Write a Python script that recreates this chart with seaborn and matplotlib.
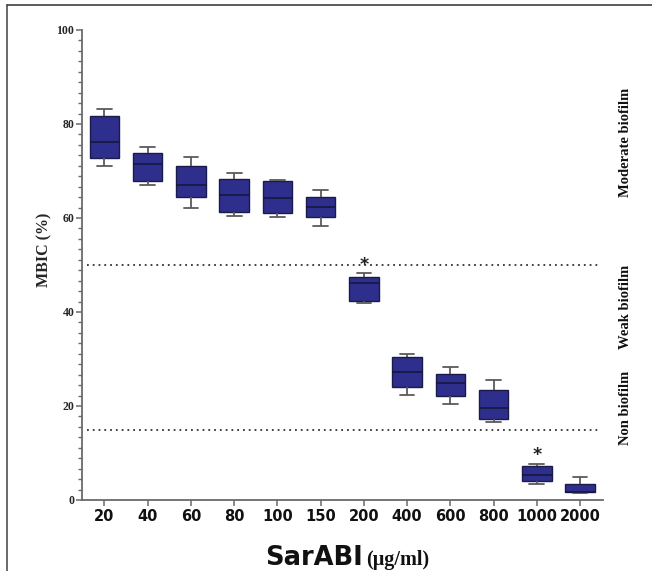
import numpy as np
import pandas as pd
import matplotlib
matplotlib.use("Agg")
import matplotlib.pyplot as plt
from matplotlib.lines import Line2D
from matplotlib.ticker import AutoMinorLocator
import seaborn as sns

# ---- data ----
concentrations = ["20", "40", "60", "80", "100", "150", "200", "400", "600", "800", "1000", "2000"]
lows    = [71.1, 67.0, 62.1, 60.4, 60.2, 58.3, 41.9, 22.3, 20.4, 16.7, 3.5, 1.5]
q1s     = [72.8, 67.9, 64.5, 61.2, 61.1, 60.2, 42.4, 24.1, 22.2, 17.3, 4.0, 1.6]
medians = [76.1, 71.4, 67.1, 65.0, 64.3, 62.3, 46.1, 27.2, 25.0, 19.6, 5.4, 1.8]
q3s     = [81.6, 73.8, 71.1, 68.3, 67.8, 64.5, 47.4, 30.4, 26.9, 23.3, 7.3, 3.4]
highs   = [83.2, 75.1, 73.0, 69.6, 68.1, 66.0, 48.2, 31.0, 28.4, 25.5, 7.6, 4.9]
thresholds = [50, 15]
star_groups = ["200", "1000"]
star_values = [49.9, 9.5]
zone_labels = ["Moderate biofilm", "Weak biofilm", "Non biofilm"]
zone_label_y = [76, 41, 19.5]
y_ticks = [0, 20, 40, 60, 80, 100]

# long-form table: 5 points per group give exact quartiles (linear percentiles)
rows = []
for c, a, b, m, d, e in zip(concentrations, lows, q1s, medians, q3s, highs):
    for v in (a, b, m, d, e):
        rows.append({"conc": c, "mbic": v})
df = pd.DataFrame(rows)

sns.set_style("ticks")
W, H = 652, 571
fig = plt.figure(figsize=(W / 100, H / 100), dpi=100)
ax = fig.add_axes([82 / W, 71 / H, 521 / W, 470 / H])

box_fill = "#2e2f8c"
sns.boxplot(data=df, x="conc", y="mbic", order=concentrations, whis=np.inf,
            width=0.68, color=box_fill, saturation=1, ax=ax,
            boxprops=dict(facecolor=box_fill, edgecolor="#1a1b48", linewidth=1.0),
            whiskerprops=dict(color="#5a5a5a", linewidth=1.3),
            capprops=dict(color="#5a5a5a", linewidth=1.3),
            medianprops=dict(color="#15153a", linewidth=1.1))

for t in thresholds:
    ax.plot([-0.4, 11.42], [t, t], color="#333333", linewidth=1.3,
            linestyle=(0, (1, 2.2)), clip_on=False, zorder=1)

for g, v in zip(star_groups, star_values):
    ax.text(concentrations.index(g), v, "*", ha="center", va="center",
            fontsize=12.5, fontweight="bold", color="#222222", family="DejaVu Sans")

ax.set_xlim(-0.52, 11.53)
ax.set_ylim(0, 100)
ax.set_yticks(y_ticks)
ax.yaxis.set_minor_locator(AutoMinorLocator(9))
sns.despine(ax=ax)
ax.spines["left"].set_bounds(0, 100)
for s in ("left", "bottom"):
    ax.spines[s].set_color("#6a6a6a")
    ax.spines[s].set_linewidth(1.3)

ax.tick_params(axis="y", which="major", length=4, width=1.1, color="#6a6a6a", pad=1.5)
ax.tick_params(axis="y", which="minor", length=3.2, width=1.0, color="#6a6a6a")
ax.tick_params(axis="x", which="major", length=4, width=1.1, color="#6a6a6a", pad=2.5)
for lab in ax.get_yticklabels():
    lab.set_fontfamily("Liberation Serif")
    lab.set_fontweight("bold")
    lab.set_fontsize(8.5)
for lab in ax.get_xticklabels():
    lab.set_fontfamily("DejaVu Sans")
    lab.set_fontweight("bold")
    lab.set_fontsize(10.5)
    lab.set_color("#111111")

ax.set_xlabel("")
ax.set_ylabel("MBIC (%)", fontfamily="Liberation Serif", fontweight="bold", fontsize=11.5)
ax.yaxis.set_label_coords(-0.057, 0.532)

# x axis title: sans part + serif part
fig.text(363 / W, 1 - 565 / H, "SarABI", ha="right", va="baseline",
         fontsize=18.5, fontweight="bold", family="DejaVu Sans", color="#111111")
fig.text(366 / W, 1 - 565 / H, "(\u03bcg/ml)", ha="left", va="baseline",
         fontsize=14.5, fontweight="bold", family="Liberation Serif", color="#111111")

# zone labels at right
for txt, yv in zip(zone_labels, zone_label_y):
    ax.text(1.0 + (625 - 603) / 521, yv / 100, txt, transform=ax.transAxes,
            rotation=90, ha="center", va="center", fontsize=10.5,
            fontweight="bold", family="Liberation Serif", color="#111111")

# outer frame (top and left lines)
fig.add_artist(Line2D([7 / W, 7 / W], [0, 1 - 5 / H], transform=fig.transFigure,
                      color="#505050", linewidth=1.2))
fig.add_artist(Line2D([7 / W, 1], [1 - 5 / H, 1 - 5 / H], transform=fig.transFigure,
                      color="#404040", linewidth=1.2))

fig.savefig("out.png", dpi=100)
